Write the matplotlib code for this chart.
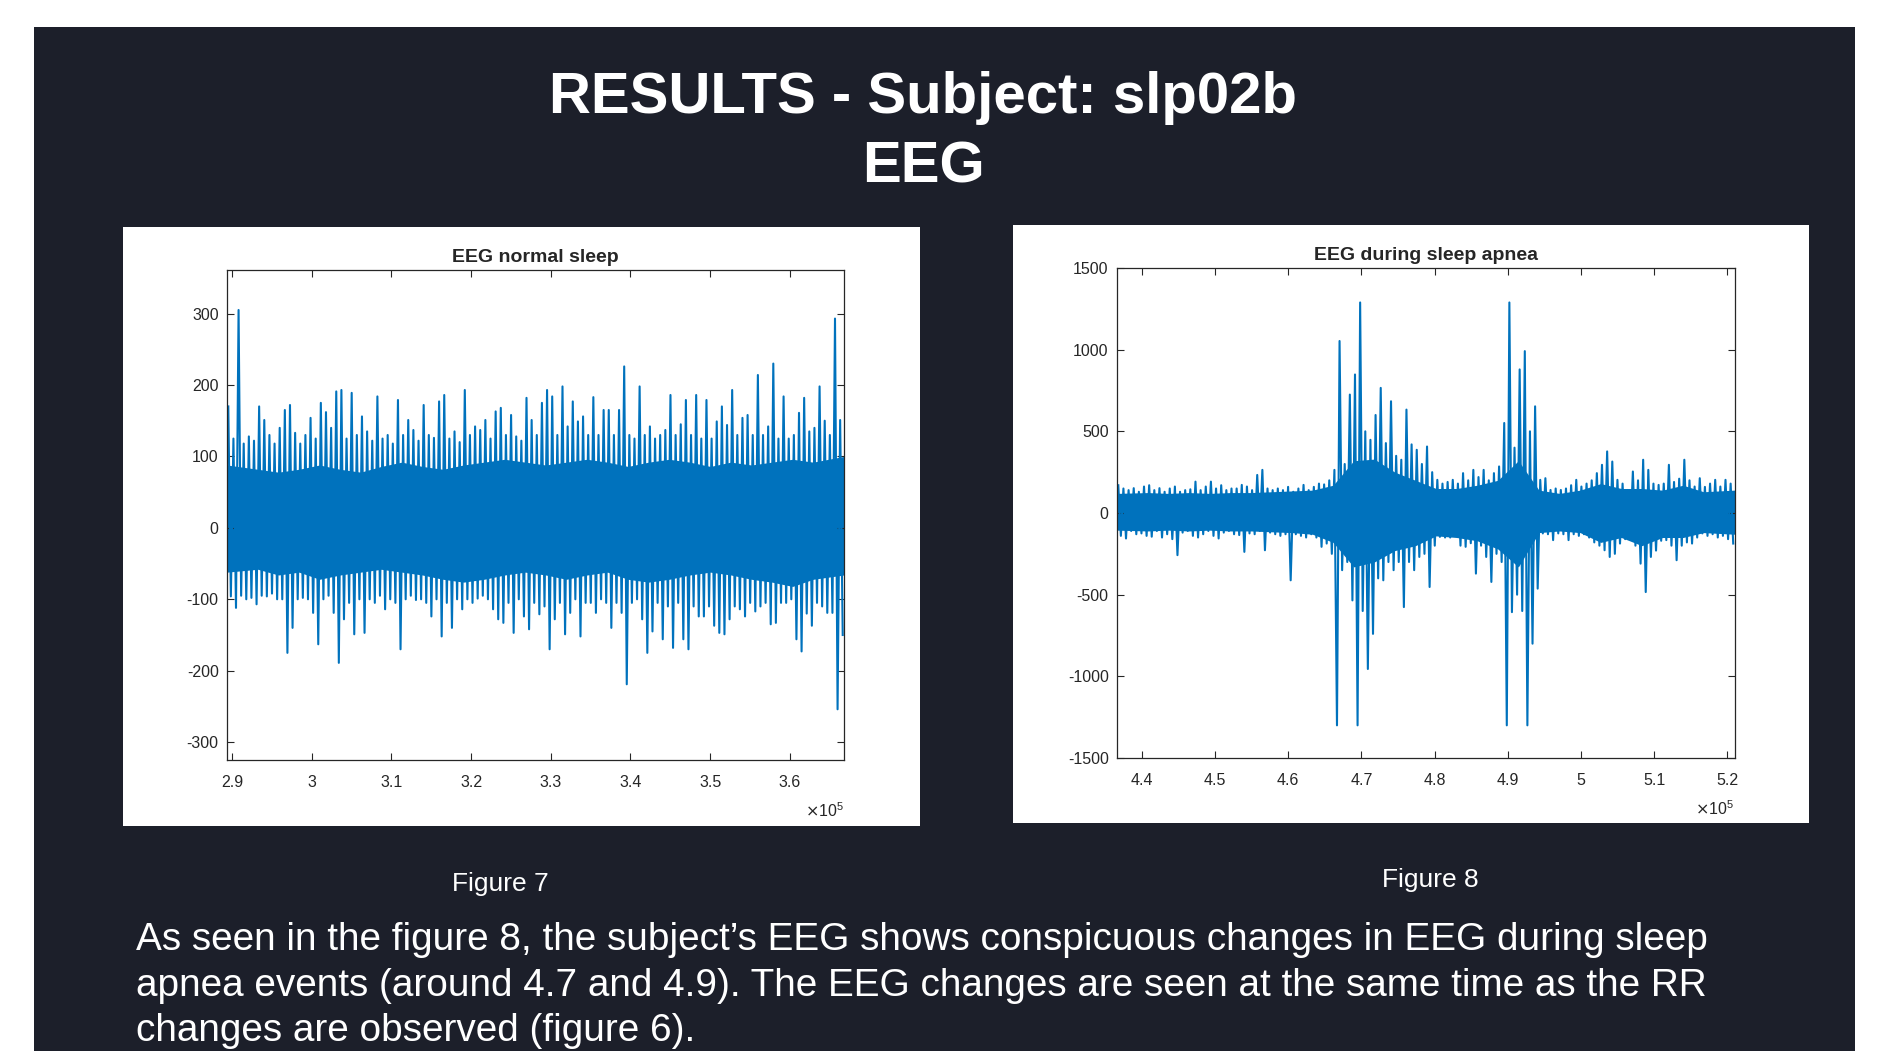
import numpy as np
import matplotlib
matplotlib.use("Agg")
import matplotlib.pyplot as plt
from matplotlib.patches import Rectangle

plt.rcParams['font.family'] = ['Liberation Sans', 'DejaVu Sans']

# ---------------- data ----------------
# Figure 7: EEG normal sleep, sample window (samples) and peak/trough values per bin
normal_x_range = [289370, 366800]
normal_upper = [
    170, 125, 305, 118, 128, 122, 170, 151, 130, 118,
    140, 165, 172, 133, 118, 130, 154, 125, 175, 162,
    140, 191, 193, 125, 189, 130, 156, 135, 122, 184,
    125, 130, 118, 179, 130, 151, 137, 122, 172, 130,
    126, 177, 186, 125, 135, 120, 193, 130, 142, 137,
    151, 125, 163, 168, 130, 158, 128, 122, 182, 151,
    130, 175, 193, 184, 130, 198, 142, 177, 149, 156,
    130, 183, 130, 165, 165, 130, 165, 226, 130, 125,
    198, 130, 142, 125, 130, 137, 186, 130, 145, 179,
    130, 186, 125, 179, 125, 149, 170, 144, 193, 130,
    154, 158, 130, 214, 130, 142, 230, 125, 184, 125,
    130, 161, 182, 135, 140, 198, 150, 130, 293, 151,
]
normal_lower = [
    -96, -112, -95, -100, -98, -107, -95, -96, -92, -100,
    -100, -175, -140, -100, -98, -100, -119, -163, -100, -95,
    -119, -189, -128, -105, -149, -100, -147, -100, -105, -95,
    -114, -100, -105, -170, -100, -95, -101, -100, -105, -124,
    -100, -152, -105, -140, -100, -114, -100, -105, -99, -95,
    -100, -114, -128, -133, -105, -147, -100, -124, -142, -105,
    -121, -110, -170, -128, -105, -149, -119, -100, -152, -105,
    -105, -119, -100, -105, -140, -105, -119, -219, -105, -100,
    -128, -175, -145, -105, -156, -110, -168, -105, -156, -170,
    -110, -124, -124, -110, -137, -147, -149, -128, -110, -114,
    -124, -105, -117, -110, -105, -135, -133, -105, -105, -100,
    -156, -173, -120, -137, -105, -110, -119, -119, -254, -150,
]
# dense core of the trace (solid band), 30 points across the window
normal_core_upper = [88, 82, 78, 82, 88, 82, 78, 86, 92, 86,
                     82, 88, 92, 96, 92, 88, 92, 96, 92, 86,
                     92, 96, 92, 86, 92, 88, 92, 96, 92, 100]
normal_core_lower = [-62, -58, -66, -62, -72, -66, -62, -58, -62, -66,
                     -72, -76, -72, -66, -62, -66, -72, -66, -62, -72,
                     -76, -72, -66, -62, -66, -72, -76, -82, -72, -66]
normal_xticks = [290000, 300000, 310000, 320000, 330000, 340000, 350000, 360000]
normal_xticklabels = ['2.9', '3', '3.1', '3.2', '3.3', '3.4', '3.5', '3.6']
normal_yticks = [-300, -200, -100, 0, 100, 200, 300]
normal_ylim = [-325, 361]

# Figure 8: EEG during sleep apnea
apnea_x_range = [436600, 521000]
apnea_upper = [
    170, 150, 140, 152, 130, 162, 170, 140, 152, 130,
    150, 162, 130, 140, 145, 192, 140, 162, 192, 150,
    170, 140, 150, 150, 172, 162, 140, 233, 264, 150,
    140, 150, 140, 160, 130, 150, 172, 140, 160, 180,
    175, 200, 264, 1053, 300, 725, 848, 1289, 500, 448,
    600, 766, 428, 684, 350, 326, 633, 420, 387, 300,
    407, 250, 203, 180, 190, 203, 180, 244, 200, 264,
    220, 264, 200, 244, 285, 551, 1289, 400, 879, 991,
    500, 653, 203, 213, 141, 150, 141, 150, 170, 203,
    162, 180, 200, 244, 295, 377, 315, 203, 180, 141,
    254, 200, 326, 264, 180, 172, 180, 295, 190, 210,
    326, 200, 162, 213, 160, 180, 203, 162, 203, 180,
]
apnea_lower = [
    -140, -156, -110, -130, -125, -140, -145, -110, -150, -130,
    -160, -258, -120, -110, -140, -150, -130, -110, -140, -156,
    -120, -110, -130, -135, -238, -125, -130, -110, -228, -120,
    -130, -140, -130, -412, -130, -140, -150, -130, -150, -207,
    -187, -250, -1300, -350, -300, -535, -1300, -600, -955, -740,
    -400, -412, -300, -350, -300, -576, -300, -350, -269, -250,
    -453, -200, -146, -150, -150, -140, -200, -207, -185, -371,
    -200, -269, -422, -250, -300, -1300, -607, -500, -600, -1300,
    -800, -463, -125, -130, -166, -125, -130, -166, -130, -140,
    -130, -150, -180, -200, -228, -269, -250, -187, -160, -140,
    -200, -310, -484, -269, -230, -170, -166, -200, -289, -200,
    -180, -187, -150, -125, -140, -130, -150, -140, -160, -187,
]
apnea_core_upper = [120, 125, 120, 125, 120, 125, 125, 130, 135, 140,
                    170, 320, 330, 250, 200, 150, 150, 170, 200, 320,
                    140, 120, 140, 180, 150, 150, 140, 170, 130, 140]
apnea_core_lower = [-105, -110, -105, -110, -105, -110, -110, -115, -120, -130,
                    -180, -330, -300, -230, -200, -140, -150, -170, -220, -330,
                    -120, -110, -120, -180, -150, -200, -150, -150, -120, -130]
apnea_xticks = [440000, 450000, 460000, 470000, 480000, 490000, 500000, 510000, 520000]
apnea_xticklabels = ['4.4', '4.5', '4.6', '4.7', '4.8', '4.9', '5', '5.1', '5.2']
apnea_yticks = [-1500, -1000, -500, 0, 500, 1000, 1500]
apnea_ylim = [-1500, 1500]

slide_title_lines = ["RESULTS - Subject: slp02b", "EEG"]
titles = ["EEG normal sleep", "EEG during sleep apnea"]
captions = ["Figure 7", "Figure 8"]
body_lines = [
    "As seen in the figure 8, the subject\u2019s EEG shows conspicuous changes in EEG during sleep",
    "apnea events (around 4.7 and 4.9). The EEG changes are seen at the same time as the RR",
    "changes are observed (figure 6).",
]

# ---------------- layout ----------------
W, H = 1904, 1051
fig = plt.figure(figsize=(W / 100, H / 100), dpi=100, facecolor='white')


def fx(px):
    return px / W


def fy(py):
    return 1 - py / H


def rect_px(x0, y0, x1, y1, color):
    fig.patches.append(Rectangle((fx(x0), fy(y1)), fx(x1) - fx(x0), fy(y0) - fy(y1),
                                 transform=fig.transFigure, facecolor=color,
                                 edgecolor='none', zorder=-10))


DARK = '#1c1f2a'
rect_px(34, 27, 1855, 1051, DARK)
rect_px(123, 227, 920, 826, 'white')
rect_px(1013, 225, 1809, 823, 'white')

fig.text(fx(923), fy(98), slide_title_lines[0], ha='center', va='center', color='white',
         fontsize=41.9, fontweight='bold')
fig.text(fx(923), fy(167), slide_title_lines[1], ha='center', va='center', color='white',
         fontsize=41.9, fontweight='bold')

LINE = '#0072BD'
AX_COL = '#262626'


def signal_xy(x_range, upper, lower):
    n = len(upper)
    step = (x_range[1] - x_range[0]) / n
    k = np.arange(n)
    xs = np.empty(2 * n)
    ys = np.empty(2 * n)
    xs[0::2] = x_range[0] + (k + 0.25) * step
    xs[1::2] = x_range[0] + (k + 0.75) * step
    ys[0::2] = upper
    ys[1::2] = lower
    return xs, ys


def make_axes(box, x_range, upper, lower, core_up, core_lo,
              xticks, xlabels, yticks, ylim, title):
    x0, y0, x1, y1 = box
    ax = fig.add_axes([fx(x0), fy(y1), fx(x1) - fx(x0), fy(y0) - fy(y1)])
    ax.set_zorder(5)
    ax.set_facecolor('white')
    # solid core band of the trace
    nc = len(core_up)
    cstep = (x_range[1] - x_range[0]) / nc
    cx = x_range[0] + (np.arange(nc) + 0.5) * cstep
    cx[0] = x_range[0]
    cx[-1] = x_range[1]
    ax.fill_between(cx, core_lo, core_up, color=LINE, lw=0)
    # peaks / troughs
    xs, ys = signal_xy(x_range, upper, lower)
    ax.plot(xs, ys, color=LINE, lw=1.5, solid_joinstyle='round')
    ax.set_xlim(x_range)
    ax.set_ylim(ylim)
    ax.set_xticks(xticks)
    ax.set_xticklabels(xlabels)
    ax.set_yticks(yticks)
    ax.set_yticklabels([str(v) for v in yticks])
    ax.tick_params(direction='in', length=5, width=0.8, top=True, right=True,
                   colors=AX_COL, labelsize=11.5)
    ax.tick_params(axis='x', pad=11)
    ax.tick_params(axis='y', pad=6)
    for s in ax.spines.values():
        s.set_color(AX_COL)
        s.set_linewidth(0.9)
    ax.set_title(title, fontsize=14, fontweight='bold', color=AX_COL, pad=6)
    ax.text(1.0, -0.085, r'$\times\mathregular{10^{5}}$', transform=ax.transAxes,
            ha='right', va='top', fontsize=11.5, color=AX_COL)
    return ax


make_axes((227, 270, 844, 760), normal_x_range, normal_upper, normal_lower,
          normal_core_upper, normal_core_lower,
          normal_xticks, normal_xticklabels, normal_yticks, normal_ylim, titles[0])
make_axes((1117, 268, 1734.5, 758), apnea_x_range, apnea_upper, apnea_lower,
          apnea_core_upper, apnea_core_lower,
          apnea_xticks, apnea_xticklabels, apnea_yticks, apnea_ylim, titles[1])

fig.text(fx(500), fy(884), captions[0], ha='center', va='center', color='white', fontsize=19)
fig.text(fx(1430), fy(880), captions[1], ha='center', va='center', color='white', fontsize=19)

for i, line in enumerate(body_lines):
    fig.text(fx(136), fy(950 + 45.5 * i), line, ha='left', va='baseline',
             color='white', fontsize=27.9)

fig.savefig('out.png', dpi=100, facecolor='white')
